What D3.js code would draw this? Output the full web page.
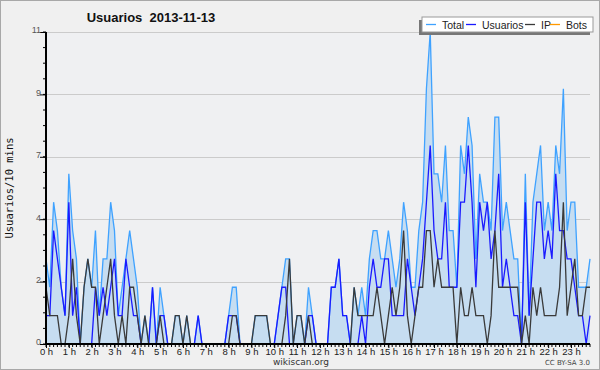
<!DOCTYPE html>
<html>
<head>
<meta charset="utf-8">
<script src="https://cdn.jsdelivr.net/npm/d3@7"></script>
<style>
  body { margin: 0; background: #fff; }
</style>
</head>
<body>
<div id="chart"></div>
<script>
// one value every 10 minutes, 144 slots
var total = [3,2,5,4,2,1,6,4,3,0, 2,3,2,4,1,3,3,5,4,1, 2,3,4,3,2,0,1,0,2,0,
  2,1,0,0,1,1,0,1,0,0, 1,0,0,0,0,0,0,0,1,2, 2,0,0,0,0,1,1,1,1,0,
  0,1,2,3,3,0,1,1,0,2, 1,0,0,0,0,2,2,3,1,1, 0,2,1,2,1,3,4,4,3,3,
  4,3,2,3,5,4,2,2,4,5, 9,11,6,6,5,7,4,4,2,7, 6,8,7,3,6,5,5,4,8,8,
  4,5,4,3,3,0,6,1,5,6, 7,4,5,4,7,6,9,4,5,5, 2,2,2,3];
var usuarios = [1,1,4,3,2,1,5,1,2,0, 0,0,0,2,1,2,1,2,3,1, 1,3,2,1,1,0,0,0,2,0,
  1,1,0,0,0,0,0,0,0,0, 1,0,0,0,0,0,0,0,1,1, 1,0,0,0,0,0,0,0,0,0,
  0,1,2,2,0,0,0,0,0,1, 1,0,0,0,0,2,2,3,1,1, 0,0,0,1,0,2,3,2,2,3,
  3,1,1,1,1,3,2,1,2,3, 5,7,4,3,3,5,2,2,2,5, 5,7,5,2,5,4,5,3,4,6,
  2,3,2,1,1,0,5,1,3,5, 5,3,4,3,6,4,4,3,3,2, 1,1,0,1];
var ip = [2,1,1,1,0,0,1,3,1,0, 2,3,2,2,0,1,2,3,1,0, 1,0,2,2,1,0,1,0,0,0,
  1,0,0,0,1,1,0,1,0,0, 0,0,0,0,0,0,0,0,0,1, 1,0,0,0,0,1,1,1,1,0,
  0,0,0,1,3,0,1,1,0,1, 0,0,0,0,0,0,0,0,0,0, 0,2,1,1,1,1,1,2,1,0,
  1,2,1,2,4,1,0,1,2,2, 4,4,2,3,2,2,2,2,0,2, 1,1,2,1,1,1,0,1,4,2,
  2,2,2,2,2,0,1,0,2,1, 2,1,1,1,1,2,5,1,2,3, 1,1,2,2];
var bots = [0,0,0,0,0,0,0,0,0,0, 0,0,0,0,0,0,0,0,0,0, 0,0,0,0,0,0,0,0,0,0,
  0,0,0,0,0,0,0,0,0,0, 0,0,0,0,0,0,0,0,0,0, 0,0,0,0,0,0,0,0,0,0,
  0,0,0,0,0,0,0,0,0,0, 0,0,0,0,0,0,0,0,0,0, 0,0,0,0,0,0,0,0,0,0,
  0,0,0,0,0,0,0,0,0,0, 0,0,0,0,0,0,0,0,0,0, 0,0,0,0,0,0,0,0,0,0,
  0,0,0,0,0,0,0,0,0,0, 0,0,0,0,0,0,0,0,0,0, 0,0,0,0];
var hourLabels = ["0 h","1 h","2 h","3 h","4 h","5 h","6 h","7 h","8 h","9 h","10 h","11 h",
  "12 h","13 h","14 h","15 h","16 h","17 h","18 h","19 h","20 h","21 h","22 h","23 h"];
var yTickLabels = ["0","2","4","7","9","11"];
var seriesNames = ["Total","Usuarios","IP","Bots"];
var seriesColors = ["#3fa2ff","#1a1aff","#3a3a3a","#ff9900"];

var margin = {top: 32, right: 10, bottom: 26, left: 46},
    W = 600, H = 370,
    width = W - margin.left - margin.right,
    height = H - margin.top - margin.bottom;

var svg = d3.select("#chart").append("svg")
    .attr("width", W)
    .attr("height", H)
    .style("font-family", "'DejaVu Sans', Verdana, sans-serif");

svg.append("rect")
    .attr("x", 0.5).attr("y", 0.5)
    .attr("width", W - 1).attr("height", H - 1)
    .attr("fill", "#f0f0f0")
    .attr("stroke", "#a8a8a8");

var g = svg.append("g")
    .attr("transform", "translate(" + margin.left + "," + margin.top + ")");

var x = d3.scaleLinear().domain([0, total.length - 1]).range([0, width]);
var y = d3.scaleLinear().domain([0, 11]).range([height, 0]);

g.append("rect")
    .attr("width", width).attr("height", height)
    .attr("fill", "#eff0f2");

// grid
var major = d3.range(0, 11.001, 2.2);
g.selectAll(".grid").data(major.slice(1)).enter().append("line")
    .attr("x1", 0).attr("x2", width)
    .attr("y1", function(d) { return Math.round(y(d)) + 0.5; })
    .attr("y2", function(d) { return Math.round(y(d)) + 0.5; })
    .attr("stroke", "#cbcbcb");

var area = d3.area()
    .x(function(d, i) { return x(i); })
    .y0(height)
    .y1(function(d) { return y(d); });

var line = d3.line()
    .x(function(d, i) { return x(i); })
    .y(function(d) { return y(d); });

g.append("path").datum(total)
    .attr("d", area)
    .attr("fill", "#c6ddf1");

[bots, total, usuarios, ip].forEach(function(s, k) {
  var c = [seriesColors[3], seriesColors[0], seriesColors[1], seriesColors[2]][k];
  g.append("path").datum(s)
      .attr("d", line)
      .attr("fill", "none")
      .attr("stroke", c)
      .attr("stroke-width", 1.3)
      .attr("stroke-linejoin", "miter");
});

// y axis
var yAxis = d3.axisLeft(y)
    .tickValues(major)
    .tickSize(6)
    .tickFormat(function(d, i) { return yTickLabels[i]; });
var ya = g.append("g").call(yAxis);
ya.select(".domain").attr("stroke", "#000").attr("stroke-width", 2).attr("d", "M0," + height + "V0");
ya.selectAll("text").attr("fill", "#555").style("font-size", "9px").attr("x", -5).attr("dy", "0.1em");
ya.selectAll(".tick line").attr("stroke", "#000");

g.append("g").selectAll("line")
    .data(d3.range(0, 11.001, 0.55))
    .enter().append("line")
    .attr("x1", -3).attr("x2", 0)
    .attr("y1", function(d) { return y(d); })
    .attr("y2", function(d) { return y(d); })
    .attr("stroke", "#000");

// x axis
var xAxis = d3.axisBottom(x)
    .tickValues(d3.range(0, 144, 6))
    .tickSize(4)
    .tickFormat(function(d, i) { return hourLabels[i]; });
var xa = g.append("g")
    .attr("transform", "translate(0," + height + ")")
    .call(xAxis);
xa.select(".domain").attr("stroke", "#000").attr("stroke-width", 2).attr("d", "M0,0H" + width);
xa.selectAll("text").attr("fill", "#222").style("font-size", "9.5px").attr("y", 4);
xa.selectAll(".tick line").attr("stroke", "#000");

g.append("g").selectAll("line")
    .data(d3.range(0, 144))
    .enter().append("line")
    .attr("x1", function(d) { return x(d); })
    .attr("x2", function(d) { return x(d); })
    .attr("y1", height).attr("y2", height + 3)
    .attr("stroke", "#000");

// title and labels
svg.append("text")
    .attr("x", 151).attr("y", 22)
    .attr("text-anchor", "middle")
    .style("white-space", "pre")
    .style("font-family", "'Liberation Sans', Arial, sans-serif")
    .style("font-size", "13px").style("font-weight", "bold")
    .attr("fill", "#111")
    .text("Usuarios  2013-11-13");

svg.append("text")
    .attr("transform", "translate(13," + (margin.top + height / 2) + ") rotate(-90)")
    .attr("text-anchor", "middle")
    .style("font-family", "'DejaVu Sans Mono', monospace")
    .style("font-size", "10.5px")
    .attr("fill", "#111")
    .text("Usuarios/10 mins");

svg.append("text")
    .attr("x", 301).attr("y", 365)
    .attr("text-anchor", "middle")
    .style("font-size", "9px")
    .attr("fill", "#333")
    .text("wikiscan.org");

svg.append("text")
    .attr("x", 590).attr("y", 365)
    .attr("text-anchor", "end")
    .style("font-size", "7px")
    .attr("fill", "#444")
    .text("CC BY-SA 3.0");

// legend
var lg = svg.append("g").attr("transform", "translate(422,17)");
lg.append("rect").attr("x", -3).attr("y", 3).attr("width", 171).attr("height", 15).attr("fill", "#777");
lg.append("rect").attr("x", 0).attr("y", 0).attr("width", 171).attr("height", 15)
    .attr("fill", "#fff").attr("stroke", "#999");
var offs = [4, 44, 103, 128];
seriesNames.forEach(function(n, i) {
  lg.append("line")
      .attr("x1", offs[i]).attr("x2", offs[i] + 10)
      .attr("y1", 7.5).attr("y2", 7.5)
      .attr("stroke", seriesColors[i]).attr("stroke-width", 1.3);
  lg.append("text")
      .attr("x", offs[i] + 16).attr("y", 11.5)
      .style("font-family", "'Liberation Sans', Arial, sans-serif")
      .style("font-size", "10.5px")
      .attr("fill", "#222")
      .text(n);
});
</script>
</body>
</html>
